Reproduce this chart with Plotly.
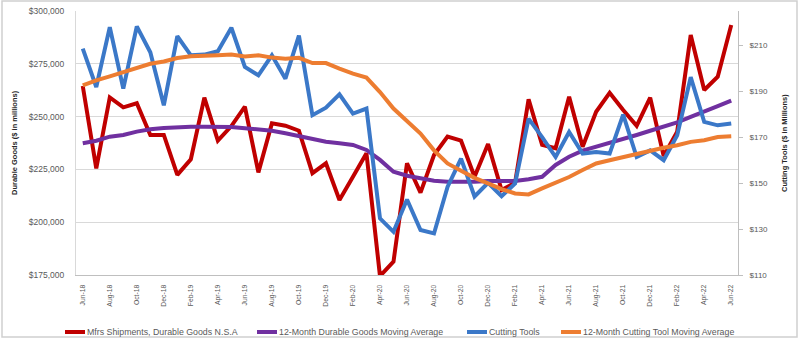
import plotly.graph_objects as go

months = ["Jun-18","Jul-18","Aug-18","Sep-18","Oct-18","Nov-18","Dec-18","Jan-19","Feb-19","Mar-19","Apr-19","May-19",
          "Jun-19","Jul-19","Aug-19","Sep-19","Oct-19","Nov-19","Dec-19","Jan-20","Feb-20","Mar-20","Apr-20","May-20",
          "Jun-20","Jul-20","Aug-20","Sep-20","Oct-20","Nov-20","Dec-20","Jan-21","Feb-21","Mar-21","Apr-21","May-21",
          "Jun-21","Jul-21","Aug-21","Sep-21","Oct-21","Nov-21","Dec-21","Jan-22","Feb-22","Mar-22","Apr-22","May-22","Jun-22"]

durable_goods = [264500, 225500, 259100, 254400, 256300, 241300, 241300, 222400, 229800, 259000, 238600, 245500,
                 254700, 223600, 246800, 245700, 243300, 223200, 227900, 210500, 221500, 232600, 174500, 181300,
                 227900, 214000, 231800, 240500, 238600, 221500, 237000, 215200, 218700, 258200, 236600, 235000,
                 259400, 235700, 252300, 261300, 253100, 245600, 259000, 231300, 242900, 288600, 262600, 268900, 293400]

durable_ma = [237400, 238600, 240500, 241300, 242900, 244000, 244600, 245100, 245200, 245200, 245200, 245100,
              244500, 244100, 243300, 242100, 240800, 239200, 238100, 237400, 236600, 234200, 229500, 223900,
              222000, 220800, 219600, 219200, 219100, 219100, 219500, 219600, 219500, 220300, 221500, 227100,
              231000, 233900, 235700, 237600, 239200, 241300, 243300, 245200, 247300, 249900, 252700, 255000, 257600]

cutting_tools = [208.6, 191.9, 218.0, 191.2, 218.3, 207.0, 183.9, 214.0, 205.7, 206.0, 207.5, 217.7,
                 200.6, 197.0, 205.7, 195.5, 214.3, 179.6, 182.9, 188.7, 180.3, 182.5, 134.7, 128.8,
                 142.9, 129.6, 128.1, 148.4, 160.7, 144.2, 150.1, 144.3, 149.9, 178.1, 170.1, 161.4,
                 172.3, 162.9, 163.6, 162.9, 179.9, 161.4, 164.3, 160.0, 170.9, 196.2, 176.7, 175.2, 176.0]

cutting_ma = [192.6, 194.8, 196.5, 198.4, 200.1, 202.0, 203.0, 204.5, 205.3, 205.3, 205.7, 206.0,
              205.2, 205.7, 204.7, 204.2, 204.6, 202.3, 202.3, 199.9, 197.7, 196.0, 189.7, 182.5,
              177.1, 171.6, 164.3, 158.6, 155.4, 152.3, 149.9, 147.4, 145.5, 145.1, 147.7, 150.1,
              152.7, 155.7, 158.6, 160.0, 161.4, 162.9, 164.0, 165.4, 166.5, 168.0, 168.7, 170.1, 170.4]

left_ticks = [175000, 200000, 225000, 250000, 275000, 300000]
left_labels = ["$175,000", "$200,000", "$225,000", "$250,000", "$275,000", "$300,000"]
right_ticks = [110, 130, 150, 170, 190, 210]
right_labels = ["$110", "$130", "$150", "$170", "$190", "$210"]

series_names = ["Mfrs Shipments, Durable Goods N.S.A", "12-Month Durable Goods Moving Average",
                "Cutting Tools", "12-Month Cutting Tool Moving Average"]

RED = "#C00000"
PURPLE = "#7030A0"
BLUE = "#3B78C8"
ORANGE = "#ED7D31"
colors = [RED, PURPLE, BLUE, ORANGE]
FONT = "Liberation Sans"
TXT = "#595959"

fig = go.Figure()
fig.add_trace(go.Scatter(x=months, y=durable_goods, mode="lines", name=series_names[0],
                         line=dict(color=RED, width=4), yaxis="y"))
fig.add_trace(go.Scatter(x=months, y=durable_ma, mode="lines", name=series_names[1],
                         line=dict(color=PURPLE, width=4), yaxis="y"))
fig.add_trace(go.Scatter(x=months, y=cutting_tools, mode="lines", name=series_names[2],
                         line=dict(color=BLUE, width=4), yaxis="y2"))
fig.add_trace(go.Scatter(x=months, y=cutting_ma, mode="lines", name=series_names[3],
                         line=dict(color=ORANGE, width=4), yaxis="y2"))

L, R, T, B = 76, 62, 11, 64
W, H = 800, 339
pw, ph = W - L - R, H - T - B

def px(x):
    return (x - L) / pw

def py(y):
    return (H - B - y) / ph

annotations = [
    dict(text="<b>Durable Goods ($ in millions)</b>", x=px(14), y=py(143), xref="paper", yref="paper",
         textangle=-90, showarrow=False, font=dict(size=7.5, color="#262626", family=FONT),
         xanchor="center", yanchor="middle"),
    dict(text="<b>Cutting Tools ($ in Millions)</b>", x=px(784), y=py(143), xref="paper", yref="paper",
         textangle=-90, showarrow=False, font=dict(size=7.5, color="#262626", family=FONT),
         xanchor="center", yanchor="middle"),
]
shapes = [
    dict(type="rect", xref="paper", yref="paper", x0=px(2), x1=px(797), y0=py(337), y1=py(1),
         line=dict(color="#D0D0D0", width=1.5), fillcolor="rgba(0,0,0,0)", layer="below"),
]

# manual legend (Excel style: short line + text)
leg_y = 332
leg_line_x = [65, 257, 467, 561]
for name, col, lx in zip(series_names, colors, leg_line_x):
    shapes.append(dict(type="line", xref="paper", yref="paper", x0=px(lx), x1=px(lx + 20),
                       y0=py(leg_y), y1=py(leg_y), line=dict(color=col, width=4)))
    annotations.append(dict(text=name, x=px(lx + 20), y=py(leg_y), xref="paper", yref="paper",
                            showarrow=False, xanchor="left", yanchor="middle",
                            font=dict(size=8.8, color=TXT, family=FONT)))

fig.update_layout(
    width=W, height=H,
    margin=dict(l=L, r=R, t=T, b=B, autoexpand=False),
    paper_bgcolor="white", plot_bgcolor="white",
    font=dict(family=FONT, size=9, color=TXT),
    showlegend=False,
    xaxis=dict(type="category", categoryorder="array", categoryarray=months,
               range=[-0.5, len(months) - 0.5], automargin=False,
               tickmode="array", tickvals=months[::2], ticktext=months[::2],
               tickangle=-90, tickfont=dict(size=6.8, color=TXT, family=FONT),
               showgrid=False, showline=True, linecolor="#BFBFBF", linewidth=1,
               ticks="", ticklabelstandoff=6, zeroline=False),
    yaxis=dict(range=[175000, 300000], tickmode="array", tickvals=left_ticks, ticktext=left_labels,
               automargin=False,
               showgrid=True, gridcolor="#D9D9D9", gridwidth=1,
               showline=True, linecolor="#D9D9D9", linewidth=1, ticks="", ticklabelstandoff=9,
               zeroline=False,
               tickfont=dict(size=8.5, color=TXT, family=FONT)),
    yaxis2=dict(range=[110, 225], tickmode="array", tickvals=right_ticks, ticktext=right_labels,
                overlaying="y", side="right", automargin=False,
                showgrid=False, showline=True, linecolor="#BFBFBF", linewidth=1,
                ticks="outside", ticklen=4, tickcolor="#BFBFBF", ticklabelstandoff=5, zeroline=False,
                tickfont=dict(size=8, color=TXT, family=FONT)),
    annotations=annotations,
    shapes=shapes,
)

fig.write_html("out.html")
